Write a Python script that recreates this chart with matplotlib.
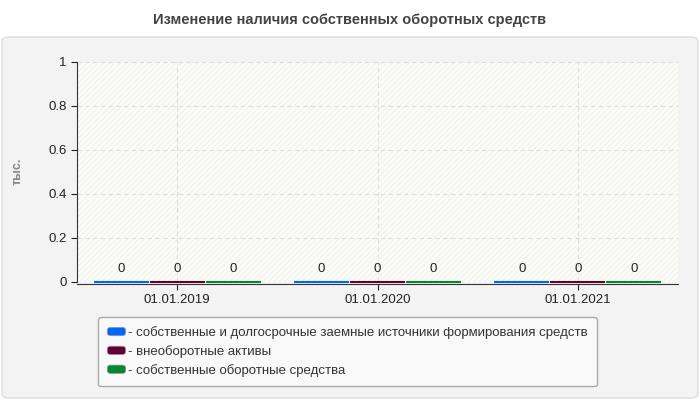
import matplotlib
matplotlib.use('Agg')
import matplotlib.pyplot as plt
import numpy as np
from matplotlib.patches import FancyBboxPatch, Rectangle
from matplotlib.legend_handler import HandlerPatch
from matplotlib.container import BarContainer

# данные
dates = ['01.01.2019', '01.01.2020', '01.01.2021']
sources = [0, 0, 0]      # собственные и долгосрочные заемные источники
noncurrent = [0, 0, 0]   # внеоборотные активы
own_working = [0, 0, 0]  # собственные оборотные средства
series_names = ['- собственные и долгосрочные заемные источники формирования средств',
                '- внеоборотные активы',
                '- собственные оборотные средства']
colors = ['#0066ff', '#660033', '#008833']

plt.rcParams['font.family'] = ['Liberation Sans', 'DejaVu Sans']
plt.rcParams['hatch.linewidth'] = 0.6


class RoundHandler(HandlerPatch):
    # скругленный маркер в легенде
    def create_artists(self, legend, orig_handle, xdescent, ydescent,
                       width, height, fontsize, trans):
        fc = orig_handle[0].get_facecolor()
        p = FancyBboxPatch((-xdescent, -ydescent), width, height,
                           boxstyle='round,pad=0,rounding_size=2.5',
                           facecolor=fc, edgecolor='#999999',
                           linewidth=0.5, transform=trans)
        return [p]


fig = plt.figure(figsize=(7, 4), dpi=100)
fig.patch.set_facecolor('white')

# серая подложка
panel = FancyBboxPatch((2 / 700, 2 / 400), 696 / 700, 361 / 400,
                       boxstyle='round,pad=0,rounding_size=0.01',
                       transform=fig.transFigure, facecolor='#f3f3f3',
                       edgecolor='#dddddd', linewidth=1, zorder=-1)
fig.patches.append(panel)

fig.text(0.5, 1 - 20 / 400, 'Изменение наличия собственных оборотных средств',
         ha='center', va='center', fontsize=10.5, fontweight='bold', color='#444444')

ax = fig.add_axes([77 / 700, 1 - 282 / 400, 601 / 700, 220 / 400])
ax.set_zorder(2)
ax.set_facecolor('#fdfdf7')
ax.add_patch(Rectangle((0, 0), 1, 1, transform=ax.transAxes, facecolor='none',
                       edgecolor='#ececec', hatch='//////', linewidth=0, zorder=0))

x = np.arange(len(dates))
w = 0.28
for i, vals in enumerate([sources, noncurrent, own_working]):
    pos = x + (i - 1) * w
    bars = ax.bar(pos, vals, width=w * 0.98, color=colors[i], edgecolor=colors[i],
                  linewidth=1.5, zorder=4, label=series_names[i])
    for b in bars:
        b.set_clip_on(False)
    for p, v in zip(pos, vals):
        ax.annotate(str(v), (p, v), xytext=(0, 5), textcoords='offset points',
                    ha='center', va='bottom', fontsize=9.5, color='#222222')

ax.set_xlim(-0.5, 2.5)
ax.set_ylim(0, 1)
ax.set_yticks([0, 0.2, 0.4, 0.6, 0.8, 1])
ax.set_yticklabels(['0', '0.2', '0.4', '0.6', '0.8', '1'])
ax.set_xticks(x)
ax.set_xticklabels(dates)
ax.tick_params(axis='both', labelsize=9.5, colors='#222222', length=4)
ax.grid(True, linestyle=(0, (4, 3)), color='#dddddd', linewidth=0.8)
ax.set_axisbelow(True)
for s in ['top', 'right']:
    ax.spines[s].set_visible(False)
ax.spines['left'].set_color('#333333')
ax.spines['bottom'].set_color('#333333')
ax.spines['bottom'].set_position(('outward', 1.2))

fig.text(18 / 700, 1 - 171 / 400, 'тыс.', rotation=90, ha='center', va='center',
         fontsize=9, fontweight='bold', color='#888888')

leg = ax.legend(loc='upper left', bbox_to_anchor=(98 / 700, 1 - 317 / 400),
                bbox_transform=fig.transFigure, fontsize=9.5, frameon=True,
                fancybox=True, handlelength=1.4, handleheight=0.6,
                handletextpad=0.15, labelspacing=0.45, borderpad=0.7,
                borderaxespad=0, handler_map={BarContainer: RoundHandler()})
leg.get_frame().set_facecolor('#f9f9f9')
leg.get_frame().set_edgecolor('#aaaaaa')
leg.get_frame().set_alpha(1)
for t in leg.get_texts():
    t.set_color('#333333')

fig.savefig('out.png', dpi=100)
